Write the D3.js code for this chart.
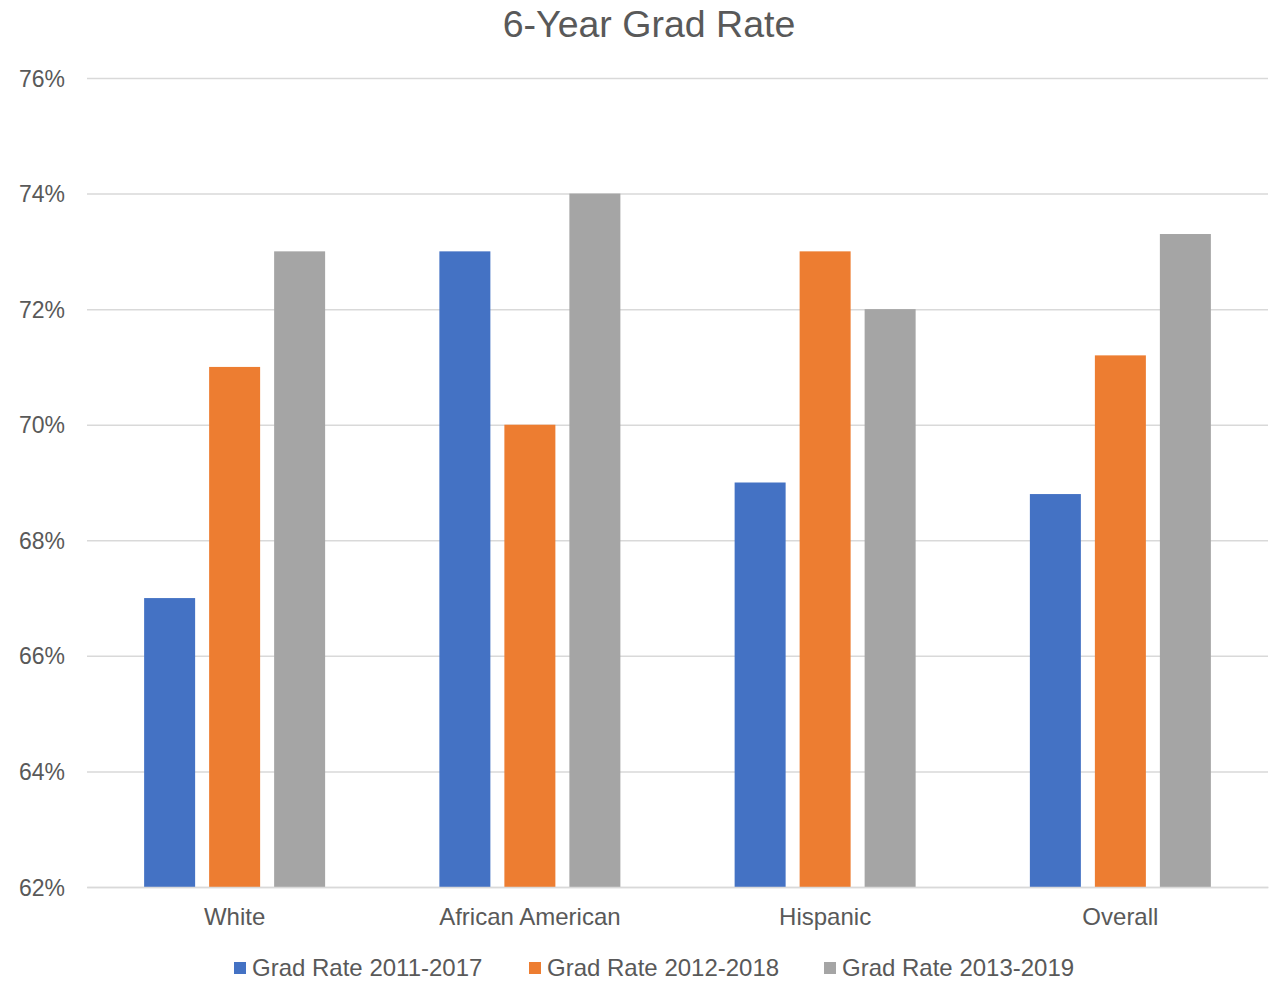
<!DOCTYPE html>
<html><head><meta charset="utf-8">
<script src="https://cdn.jsdelivr.net/npm/d3@7"></script>
<style>body{margin:0;background:#fff;}svg{display:block;font-family:"Liberation Sans",Arial,sans-serif;}</style>
</head><body><svg id="c" width="1269" height="981"></svg>
<script>
const categories = ["White", "African American", "Hispanic", "Overall"];
const seriesNames = ["Grad Rate 2011-2017", "Grad Rate 2012-2018", "Grad Rate 2013-2019"];
const rate2011 = [67, 73, 69, 68.8];
const rate2012 = [71, 70, 73, 71.2];
const rate2013 = [73, 74, 72, 73.3];
const colors = ["#4472C4", "#ED7D31", "#A5A5A5"];
const yTicks = [62, 64, 66, 68, 70, 72, 74, 76];

const series = [rate2011, rate2012, rate2013];
const svg = d3.select("#c");
const m = {l: 87, r: 1268, t: 78, b: 887};
const x = d3.scaleBand().domain(categories).range([m.l, m.r]).paddingInner(0).paddingOuter(0);
const y = d3.scaleLinear().domain([62, 76]).range([m.b, m.t]);
const barW = 51, gap = 14;

svg.append("text").attr("x", 649).attr("y", 37).attr("text-anchor", "middle")
  .attr("font-size", 37.5).attr("fill", "#595959").text("6-Year Grad Rate");

const yAxis = d3.axisLeft(y).tickValues(yTicks).tickSize(-(m.r - m.l)).tickFormat(d => d + "%");
const ga = svg.append("g").attr("transform", `translate(${m.l},0)`).call(yAxis);
ga.attr("font-size", 23);
ga.select(".domain").remove();
ga.selectAll(".tick line").attr("stroke", "#d9d9d9").attr("stroke-width", 1.5);
ga.selectAll(".tick text").attr("x", -22).attr("dy", "0.35em").style("font-size", "23px").attr("fill", "#595959")
  .attr("font-family", "Liberation Sans, Arial, sans-serif");

const groupW = 3 * barW + 2 * gap;
series.forEach((vals, si) => {
  svg.append("g").selectAll("rect").data(vals).join("rect")
    .attr("x", (d, i) => x(categories[i]) + (x.bandwidth() - groupW) / 2 + si * (barW + gap))
    .attr("y", d => y(d))
    .attr("width", barW)
    .attr("height", d => y(62) - y(d))
    .attr("fill", colors[si]);
});

const xAxis = d3.axisBottom(x).tickSize(0);
const gx = svg.append("g").attr("transform", `translate(0,${m.b})`).call(xAxis);
gx.attr("font-size", 24);
gx.select(".domain").attr("stroke", "#d9d9d9").attr("stroke-width", 1.5);
gx.selectAll(".tick text").attr("dy", 0).attr("y", 38).style("font-size", "24px").attr("fill", "#595959")
  .attr("font-family", "Liberation Sans, Arial, sans-serif");

const legX = [234, 529, 824];
const lg = svg.append("g");
seriesNames.forEach((n, i) => {
  lg.append("rect").attr("x", legX[i]).attr("y", 962).attr("width", 12).attr("height", 12).attr("fill", colors[i]);
  lg.append("text").attr("x", legX[i] + 18).attr("y", 976).style("font-size", "24px").attr("fill", "#595959").text(n);
});
</script></body></html>
